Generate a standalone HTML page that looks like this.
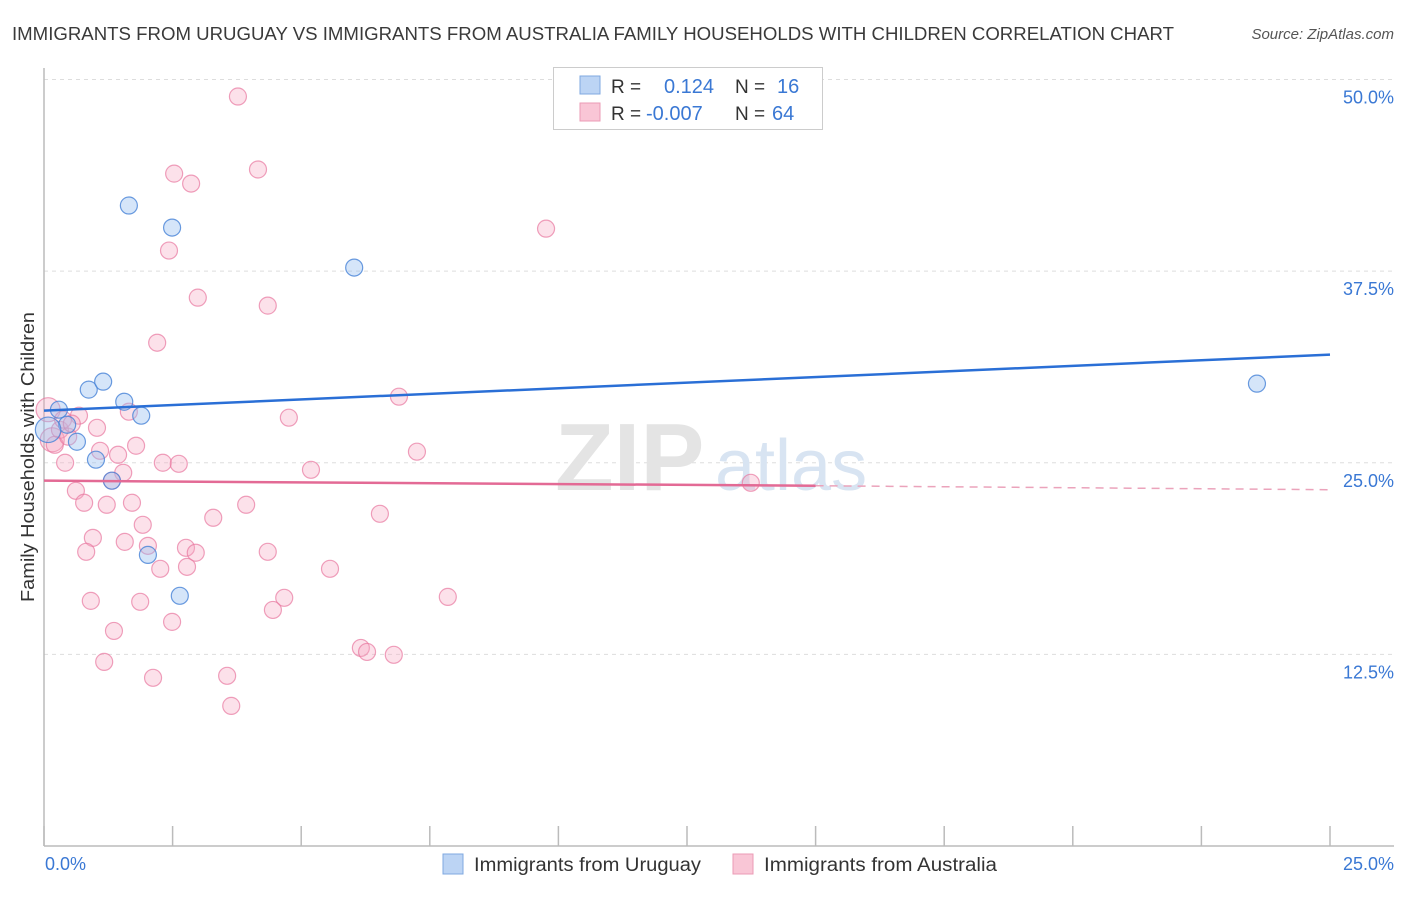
<!DOCTYPE html>
<html><head><meta charset="utf-8"><style>
body{margin:0;background:#fff;font-family:"Liberation Sans",sans-serif;}
svg text{font-family:"Liberation Sans",sans-serif;}
</style></head><body>
<svg id="chart" width="1406" height="892" viewBox="0 0 1406 892" xmlns="http://www.w3.org/2000/svg">
<text x="12" y="40" font-size="18" fill="#3a3a3a" textLength="1162" lengthAdjust="spacingAndGlyphs">IMMIGRANTS FROM URUGUAY VS IMMIGRANTS FROM AUSTRALIA FAMILY HOUSEHOLDS WITH CHILDREN CORRELATION CHART</text>
<text x="1394" y="39" font-size="15" fill="#555" text-anchor="end" font-style="italic">Source: ZipAtlas.com</text>
<g id="grid"></g>
<text x="555" y="490" font-size="96" fill="#e4e4e4" font-family="Liberation Serif" font-weight="bold">ZIP</text>
<text x="715" y="490" font-size="72" fill="#d8e4f2">atlas</text>
<line x1="44" y1="68" x2="44" y2="846" stroke="#bbb" stroke-width="1.5"/>
<line x1="44" y1="846" x2="1394" y2="846" stroke="#bbb" stroke-width="1.5"/>
<text transform="translate(34,457) rotate(-90)" font-size="18" fill="#333" text-anchor="middle" textLength="290" lengthAdjust="spacingAndGlyphs">Family Households with Children</text>
<text x="45" y="870" font-size="18" fill="#3a78d4">0.0%</text>
<text x="1394" y="870" font-size="18" fill="#3a78d4" text-anchor="end">25.0%</text>
<g id="marks"></g>
<g>
<rect x="553.5" y="67.5" width="269" height="62" fill="#fff" stroke="#ccc"/>
<rect x="580" y="76" width="20" height="18" fill="#bcd4f4" stroke="#7fa8e0"/>
<rect x="580" y="103" width="20" height="18" fill="#f9c6d6" stroke="#eb9bb5"/>
<text x="611" y="93" font-size="19" fill="#333">R =</text>
<text x="664" y="93" font-size="20" fill="#3a78d4">0.124</text>
<text x="735" y="93" font-size="19" fill="#333">N =</text>
<text x="777" y="93" font-size="20" fill="#3a78d4">16</text>
<text x="611" y="120" font-size="19" fill="#333">R =</text>
<text x="646" y="120" font-size="20" fill="#3a78d4">-0.007</text>
<text x="735" y="120" font-size="19" fill="#333">N =</text>
<text x="772" y="120" font-size="20" fill="#3a78d4">64</text>
</g>
<g>
<rect x="443" y="854" width="20" height="20" fill="#bcd4f4" stroke="#7fa8e0"/>
<text x="474" y="871" font-size="19" fill="#333" textLength="227" lengthAdjust="spacingAndGlyphs">Immigrants from Uruguay</text>
<rect x="733" y="854" width="20" height="20" fill="#f9c6d6" stroke="#eb9bb5"/>
<text x="764" y="871" font-size="19" fill="#333" textLength="233" lengthAdjust="spacingAndGlyphs">Immigrants from Australia</text>
</g>
</svg>
<script>
const yTicks=[12.5,25,37.5,50];
const yTickLabels=["12.5%","25.0%","37.5%","50.0%"];
const xTicks=[0,2.5,5,7.5,10,12.5,15,17.5,20,22.5,25];
const uruguayX=[0.29,0.45,0.64,0.87,1.15,1.01,1.56,1.89,1.32,2.02,2.64,1.65,2.49,6.03,23.58,0.08];
const uruguayY=[28.46,27.48,26.37,29.77,30.29,25.20,28.98,28.07,23.83,18.99,16.32,41.78,40.34,37.73,30.16,27.15];
const uruguaySize=[1,1,1,1,1,1,1,1,1,1,1,1,1,1,1,1.5];
const australiaX=[3.77,4.16,2.53,2.86,9.76,2.43,2.99,4.35,2.20,6.90,4.76,0.68,1.65,1.03,1.79,7.25,1.09,1.44,2.31,2.62,0.41,5.19,1.54,13.74,1.32,0.62,0.78,1.22,1.71,3.93,6.53,3.29,1.92,0.95,1.57,2.02,2.76,2.95,4.35,0.82,5.56,2.26,2.78,4.67,7.85,0.91,1.87,4.45,2.49,1.36,6.16,6.28,6.80,1.17,3.56,2.12,3.64,0.08,0.16,0.31,0.21,0.47,0.37,0.54];
const australiaY=[48.89,44.13,43.86,43.21,40.27,38.84,35.77,35.25,32.83,29.31,27.94,28.07,28.33,27.28,26.11,25.72,25.78,25.52,25.00,24.93,25.00,24.54,24.35,23.69,23.83,23.17,22.39,22.26,22.39,22.26,21.67,21.41,20.95,20.10,19.84,19.58,19.45,19.13,19.19,19.19,18.08,18.08,18.21,16.19,16.25,15.99,15.93,15.40,14.62,14.03,12.92,12.66,12.47,12.01,11.10,10.97,9.14,28.46,26.50,27.15,26.17,26.70,27.81,27.55];
const uruguayTrend=[28.4,32.05];
const australiaTrend=[23.83,23.5,23.24];
const australiaSolidEnd=15;

const X0=44,X1=1330,Y0=846,Y50=79.5;
const sx=v=>X0+(X1-X0)*v/25;
const sy=v=>Y0-(Y0-Y50)*v/50;
const NS="http://www.w3.org/2000/svg";
const grid=document.getElementById('grid'),marks=document.getElementById('marks');
function mk(tag,attrs,parent){const e=document.createElementNS(NS,tag);for(const k in attrs)e.setAttribute(k,attrs[k]);parent.appendChild(e);return e;}
yTicks.forEach((t,i)=>{
  const l=mk('line',{x1:X0,x2:1394,y1:sy(t),y2:sy(t),stroke:'#ddd','stroke-dasharray':'4,4'},grid);
  
  
  const tx=mk('text',{x:1394,y:sy(t)+24,'font-size':18,fill:'#3a78d4','text-anchor':'end'},grid);
  tx.textContent=yTickLabels[i];
  
  
});
xTicks.forEach(t=>{
  const l=mk('line',{x1:sx(t),x2:sx(t),y1:826,y2:846,stroke:'#bbb','stroke-width':1.5},grid);
  
  
});
australiaX.forEach((x,i)=>{
  const c=mk('circle',{cx:sx(x),cy:sy(australiaY[i]),r:i>=57&&i<59?12:8.5,fill:'rgba(246,170,196,0.35)',stroke:'rgba(232,120,160,0.7)','stroke-width':1.2},marks);
  
  
});
uruguayX.forEach((x,i)=>{
  const c=mk('circle',{cx:sx(x),cy:sy(uruguayY[i]),r:8.5*uruguaySize[i],fill:'rgba(150,190,240,0.4)',stroke:'rgba(70,130,215,0.8)','stroke-width':1.2},marks);
  
  
});
const bl=mk('line',{x1:sx(0),y1:sy(uruguayTrend[0]),x2:sx(25),y2:sy(uruguayTrend[1]),stroke:'#2a6fd6','stroke-width':2.5},marks);


const pl=mk('line',{x1:sx(0),y1:sy(australiaTrend[0]),x2:sx(australiaSolidEnd),y2:sy(australiaTrend[1]),stroke:'#e36a95','stroke-width':2.5},marks);


const pd=mk('line',{x1:sx(australiaSolidEnd),y1:sy(australiaTrend[1]),x2:sx(25),y2:sy(australiaTrend[2]),stroke:'#eba3bb','stroke-width':1.5,'stroke-dasharray':'8,6'},marks);


</script>
</body></html>
